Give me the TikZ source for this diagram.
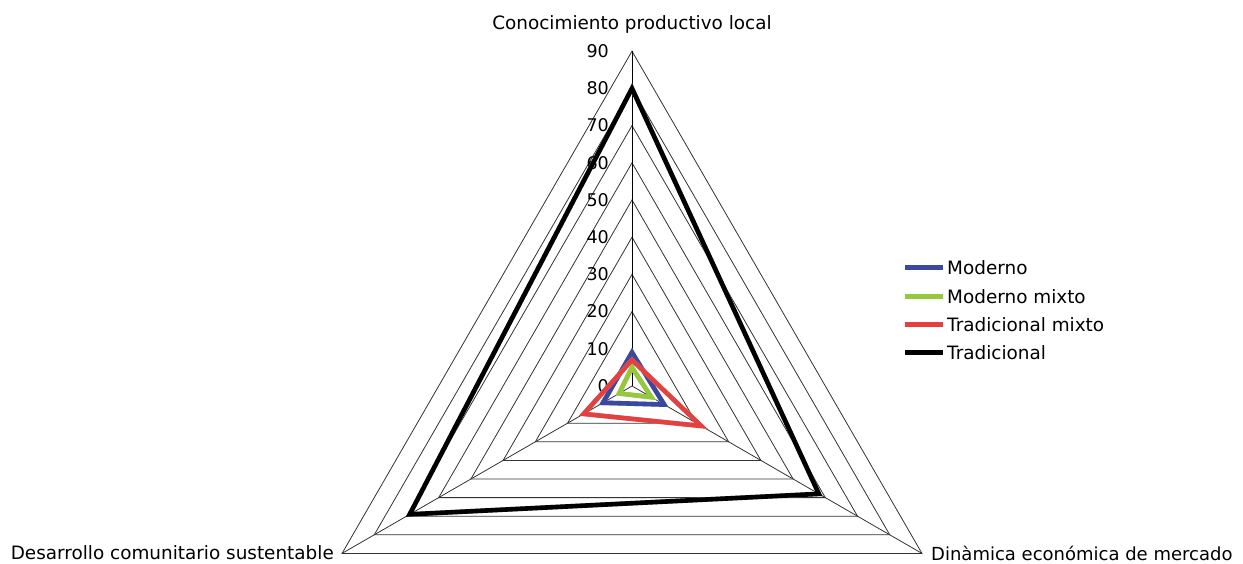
\documentclass[tikz,border=0pt]{standalone}
\usepackage{fontspec}
\setmainfont{DejaVu Sans}
\definecolor{serBlue}{RGB}{58,72,160}
\definecolor{serGreen}{RGB}{150,200,60}
\definecolor{serRed}{RGB}{228,64,64}
\begin{document}
\begin{tikzpicture}[x=1pt,y=1pt,
  grid/.style={draw=black!80, line width=0.8pt},
  spoke/.style={draw=black, line width=0.9pt},
  series/.style={line width=4.6pt, line join=miter},
  shade/.style={line width=4.6pt, draw=black!30, line join=miter},
  lbl/.style={font=\fontsize{18.4}{21}\selectfont, inner sep=0pt},
  ticklbl/.style={font=\fontsize{17.5}{20}\selectfont, inner sep=0pt, anchor=east},
  legline/.style={line width=5pt}]
\useasboundingbox (0,0) rectangle (1243,563);
\def\u{3.72}
\begin{scope}[shift={(632,177)}]
  % web of concentric triangles
  \foreach \k in {1,...,9}{
    \draw[grid] (90:\k*10*\u) -- (-30:\k*10*\u) -- (210:\k*10*\u) -- cycle;
  }
  \coordinate (O) at (0,0);
  \coordinate (A) at (90:90*\u);
  \coordinate (B) at (-30:90*\u);
  \coordinate (Cc) at (210:90*\u);
  \draw[spoke] (O) -- (A);
  \draw[grid] (O) -- (B);
  \draw[grid] (O) -- (Cc);
  % scale labels
  \foreach \k in {0,...,9}{
    \node[ticklbl] (t\k) at (-23,\k*10*\u) {\the\numexpr\k*10\relax};
  }
  % series values: top, right, left
  \coordinate (m1) at (90:9*\u);  \coordinate (m2) at (-30:10*\u); \coordinate (m3) at (210:9*\u);
  \coordinate (g1) at (90:5*\u);  \coordinate (g2) at (-30:6*\u);  \coordinate (g3) at (210:4*\u);
  \coordinate (r1) at (90:7*\u);  \coordinate (r2) at (-30:21.5*\u); \coordinate (r3) at (210:15*\u);
  \coordinate (k1) at (90:80*\u); \coordinate (k2) at (-30:58*\u); \coordinate (k3) at (210:69*\u);
  \foreach \s/\c in {m/serBlue,g/serGreen,r/serRed,k/black}{
    \draw[shade, shift={(1.8,-2.2)}] (\s1) -- (\s2) -- (\s3) -- cycle;
    \draw[series, draw=\c] (\s1) -- (\s2) -- (\s3) -- cycle;
  }
\end{scope}
% axis titles
\node[lbl] (ta) at (632,539) {Conocimiento productivo local};
\node[lbl, anchor=east] (tc) at (334,10) {Desarrollo comunitario sustentable};
\node[lbl, anchor=west, font=\fontsize{18}{21}\selectfont] (tb) at (931,10) {Dinàmica económica de mercado};
% legend
\foreach \y/\c/\t [count=\i] in {295/serBlue/Moderno, 266/serGreen/Moderno mixto, 238/serRed/Tradicional mixto, 210/black/Tradicional}{
  \coordinate (ls\i) at (905,\y);
  \coordinate (le\i) at (943,\y);
  \draw[legline, draw=\c] (ls\i) -- (le\i);
  \node[lbl, anchor=west] (lt\i) at (947,\y) {\t};
}
\end{tikzpicture}
\end{document}
